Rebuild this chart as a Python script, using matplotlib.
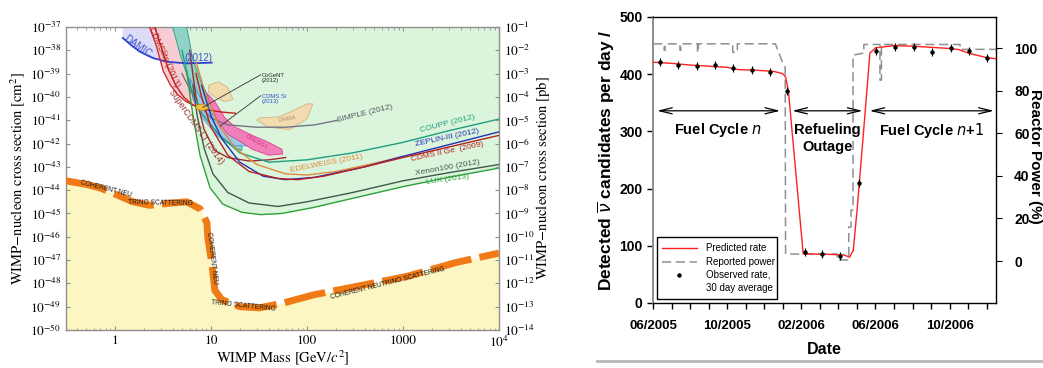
import numpy as np
import matplotlib
matplotlib.use("Agg")
import matplotlib.pyplot as plt
from matplotlib.lines import Line2D
from matplotlib.patches import Rectangle
from matplotlib.ticker import FixedLocator, NullFormatter, LogLocator

plt.rcParams['mathtext.fontset'] = 'stix'

# ---------------- Left panel data: (WIMP mass [GeV], log10 sigma [cm^2]) ----------------
nu_mass = [0.31, 0.5, 0.7, 1.05, 1.54, 2.3, 4.0, 5.6, 7.7, 9.1, 9.3, 10.2, 11.0, 13.0, 20, 32, 56, 115, 1100, 3600, 10000]
nu_logs = [-43.6, -43.75, -43.9, -44.2, -44.5, -44.65, -44.55, -44.5, -44.8, -45.4, -46.05, -47.1, -48.3, -48.7, -49.0, -49.05, -48.85, -48.5, -47.7, -47.1, -46.7]

green_mass = [3.9, 4.6, 5.4, 6.0, 6.5, 7.7, 9.8, 13.3, 21, 33, 55, 115, 300, 1000, 3000, 10000]
green_logs = [-37.0, -38.0, -38.9, -39.8, -40.8, -42.5, -43.9, -44.6, -44.95, -45.05, -45.0, -44.75, -44.35, -43.85, -43.45, -43.05]

damic_mass = [1.21, 1.5, 1.82, 2.49, 3.47, 5.6, 10.2]
damic_logs = [-37.47, -37.8, -38.06, -38.33, -38.49, -38.56, -38.53]

cdmslite1_mass = [2.3, 2.7, 3.2, 3.8, 4.5, 5.5, 7.0]
cdmslite1_logs = [-37.0, -37.8, -38.9, -39.5, -39.9, -40.2, -40.4]
cdmslite2_mass = [2.6, 3.0, 3.6, 4.3, 5.2, 6.5, 9.0, 13.0, 18.0]
cdmslite2_logs = [-37.0, -37.8, -38.8, -39.5, -40.0, -40.35, -40.55, -40.65, -40.7]

teal_left_mass = [4.0, 4.8, 6.0, 7.5, 10, 13, 18, 21]
teal_left_logs = [-37.0, -38.2, -39.4, -40.4, -41.2, -41.8, -42.2, -42.3]
teal_right_mass = [21, 17, 13, 10, 8, 6.5, 5.6]
teal_right_logs = [-42.0, -41.5, -40.9, -40.2, -39.4, -38.4, -37.0]

lux_mass = [5.6, 6.0, 6.5, 7.7, 9.8, 13.3, 21, 33, 55, 115, 300, 1000, 3000, 10000]
lux_logs = [-38.9, -39.8, -40.8, -42.5, -43.9, -44.6, -44.95, -45.05, -45.0, -44.75, -44.35, -43.85, -43.45, -43.05]
xe_mass = [6.5, 7.2, 8.5, 10.5, 15, 25, 50, 100, 300, 1000, 3000, 10000]
xe_logs = [-39.5, -40.8, -42.2, -43.3, -44.1, -44.55, -44.7, -44.5, -44.1, -43.6, -43.25, -42.9]
cdmsge_mass = [7, 8, 10, 15, 25, 50, 80, 150, 400, 1000, 3000, 10000]
cdmsge_logs = [-39.0, -40.0, -41.3, -42.5, -43.2, -43.5, -43.55, -43.4, -43.0, -42.6, -42.15, -41.65]
zep_mass = [8, 10, 13, 20, 35, 60, 120, 400, 1000, 3000, 10000]
zep_logs = [-39.5, -40.8, -41.8, -42.8, -43.4, -43.55, -43.45, -43.0, -42.55, -42.05, -41.5]
edel_mass = [7, 9, 12, 18, 30, 60, 100, 200, 500, 1000]
edel_logs = [-38.5, -40.0, -41.2, -42.2, -42.9, -43.3, -43.35, -43.2, -42.85, -42.55]
coupp_mass = [5, 6, 8, 12, 20, 40, 100, 300, 1000, 3000, 10000]
coupp_logs = [-38.0, -39.5, -40.7, -41.6, -42.4, -42.8, -42.7, -42.4, -41.95, -41.45, -40.95]
simple_mass = [5, 7, 10, 15, 30, 60, 120, 210]
simple_logs = [-39.0, -40.2, -40.9, -41.2, -41.3, -41.3, -41.2, -41.0]
scdms_mass = [6, 7, 8.5, 11, 15, 25, 40, 60]
scdms_logs = [-38.0, -40.0, -41.4, -42.3, -42.6, -42.75, -42.7, -42.6]

dama2_mass = [30, 40, 66, 100, 115, 100, 80, 52, 32]
dama2_logs = [-41.0, -41.3, -41.4, -40.95, -40.3, -40.3, -40.5, -40.85, -40.9]
dama1_mass = [9.5, 12, 15, 17, 14, 11, 9.5]
dama1_logs = [-39.5, -39.35, -39.6, -40.1, -40.2, -40.0, -39.8]
cresst_mass = [9.1, 11, 14, 18, 27, 40, 55, 56, 40, 27, 20, 15, 12, 10]
cresst_logs = [-39.85, -40.2, -40.9, -41.3, -41.65, -41.95, -42.25, -42.45, -42.5, -42.25, -41.9, -41.6, -41.1, -40.4]
cdmssi_mass = [6, 7.5, 10, 14, 20, 24, 18, 12, 8.5, 6.5]
cdmssi_logs = [-39.2, -39.9, -40.7, -41.2, -41.6, -42.1, -42.1, -41.7, -41.0, -40.1]
cogent_mass = [7, 8.5, 9.5, 8, 7]
cogent_logs = [-40.35, -40.3, -40.5, -40.6, -40.5]

# ---------------- Right panel data ----------------
month_tick_labels = ["06/2005", "10/2005", "02/2006", "06/2006", "10/2006"]
pred_month = [0, 1, 2, 3, 4, 4.3, 4.6, 5.5, 6.5, 7.0, 7.15, 7.3, 8.1, 9.5, 10.3, 10.6, 10.8, 11.0, 11.35, 11.7, 12.0, 13.0, 14.0, 15.0, 16.0, 16.5, 17.0, 17.5, 18.0, 18.5]
pred_rate = [421, 419, 416, 414, 412, 410, 408, 407, 405, 401, 395, 372, 86, 85, 84, 80, 92, 160, 297, 437, 446, 450, 449, 447, 445, 443, 437, 433, 429, 427]
power_month = [0, 0.6, 0.6, 0.65, 0.65, 1.45, 1.45, 1.5, 1.5, 2.4, 2.4, 2.45, 2.45, 4.3, 4.3, 4.55, 4.55, 6.6, 7.0, 7.13, 7.15,
               9.93, 9.93, 10.56, 10.56, 10.68, 10.68, 10.79, 10.79, 11.28, 11.37, 11.37, 12.24, 12.24, 12.32, 12.32, 16.56, 16.56, 18.5]
power_pct = [102, 102, 99, 99, 102, 102, 99, 99, 102, 102, 98, 98, 102, 102, 98, 98, 102, 102, 93, 91, 3.3,
             3.3, 0.5, 0.5, 16, 16, 24, 24, 96.7, 97.5, 97.5, 101.7, 101.7, 85, 85, 101.7, 101.7, 99.4, 99.4]
obs_month = [0.38, 1.35, 2.38, 3.35, 4.32, 5.35, 6.32, 7.24, 8.22, 9.12, 10.07, 11.1, 12.05, 13.04, 14.07, 15.06, 16.05, 17.04, 18.04]
obs_rate = [421, 416, 415, 416, 410, 408, 404, 371, 89, 86, 82, 210, 441, 447, 448, 438, 445, 441, 428]
obs_err = [7] * len(obs_rate)


def s(v):
    return 10.0 ** np.asarray(v, dtype=float)


W, H = 1043, 368
fig = plt.figure(figsize=(W / 100, H / 100), dpi=100)

# ================= Left panel =================
ax1 = fig.add_axes([66 / W, 38 / H, 433 / W, 303 / H])
ax1.set_xscale('log')
ax1.set_yscale('log')
ax1.set_xlim(0.31, 1e4)
ax1.set_ylim(1e-50, 1e-37)

ax1.fill_between(nu_mass, 1e-50, s(nu_logs), color='#fcf6c2', zorder=1, lw=0)
ax1.fill_between(green_mass, s(green_logs), 1e-37, color='#dbf5dc', zorder=1, lw=0)

# DAMIC lavender region
lav_m = [1.2] + damic_mass[:4] + [2.95, 2.7, 2.3]
lav_l = [-37.0] + damic_logs[:4] + [-38.42, -37.8, -37.0]
ax1.fill(lav_m, s(lav_l), color='#dcdcf8', zorder=2, lw=0)
# CDMSlite pink band
pk_m = cdmslite1_mass + teal_left_mass[3::-1]
pk_l = cdmslite1_logs + teal_left_logs[3::-1]
ax1.fill(pk_m, s(pk_l), color='#f7cdd3', zorder=2, lw=0)
# teal band
ax1.fill(teal_left_mass + teal_right_mass, s(teal_left_logs + teal_right_logs),
         facecolor='#8fd3c6', edgecolor='#3aa090', lw=0.7, zorder=3)

# regions
ax1.fill(cdmssi_mass, s(cdmssi_logs), facecolor='#9cc8ee', edgecolor='#4a7fd0', lw=0.6, alpha=0.85, zorder=4)
ax1.fill(dama1_mass, s(dama1_logs), facecolor='#f1dbb0', edgecolor='#d5b27c', lw=0.6, zorder=4)
ax1.fill(dama2_mass, s(dama2_logs), facecolor='#f1dbb0', edgecolor='#d5b27c', lw=0.6, zorder=4)
ax1.fill(cresst_mass, s(cresst_logs), facecolor='#f07fba', edgecolor='#e0408f', lw=0.6, zorder=4)
ax1.fill(cogent_mass, s(cogent_logs), facecolor='#f2c23c', edgecolor='#c08020', lw=0.5, zorder=6)

# limit curves
ax1.plot(damic_mass, s(damic_logs), color='#2f3fd0', lw=1.3, zorder=5)
ax1.plot(cdmslite1_mass, s(cdmslite1_logs), color='#d42a2a', lw=1.0, zorder=5)
ax1.plot(cdmslite2_mass, s(cdmslite2_logs), color='#c42020', lw=1.0, zorder=5)
ax1.plot(scdms_mass, s(scdms_logs), color='#9e2a2a', lw=1.0, zorder=5)
ax1.plot(simple_mass, s(simple_logs), color='#757585', lw=1.0, zorder=5)
ax1.plot(coupp_mass, s(coupp_logs), color='#1f9f80', lw=1.0, zorder=5)
ax1.plot(edel_mass, s(edel_logs), color='#e08a3c', lw=1.0, zorder=5)
ax1.plot(zep_mass, s(zep_logs), color='#2333b8', lw=1.0, zorder=5)
ax1.plot(cdmsge_mass, s(cdmsge_logs), color='#b82020', lw=1.0, zorder=5)
ax1.plot(xe_mass, s(xe_logs), color='#3f5a4a', lw=1.0, zorder=5)
ax1.plot(lux_mass, s(lux_logs), color='#2ea23a', lw=1.0, zorder=5)

# neutrino floor
ax1.plot(nu_mass, s(nu_logs), color='#f07b16', lw=5, dashes=(6, 1.2), zorder=6, solid_capstyle='butt')

# labels
lab = dict(family='Liberation Sans', zorder=8)
ax1.text(1.75, s(-37.85), 'DAMIC', color='#4050c8', fontsize=7, rotation=-35, ha='center', va='center', **lab)
ax1.text(7.4, s(-38.35), '(2012)', color='#4050c8', fontsize=7, ha='center', va='center', **lab)
ax1.text(3.3, s(-38.3), 'CDMSlite (2013)', color='#b02020', fontsize=6.3, rotation=-66, ha='center', va='center', **lab)
ax1.text(7.0, s(-41.3), 'SuperCDMS LT (2014)', color='#9e3030', fontsize=6.3, rotation=-55, ha='center', va='center', **lab)
ax1.text(34, s(-39.2), 'CoGeNT\n(2012)', color='#222222', fontsize=4.2, ha='left', va='center', linespacing=1.0, **lab)
ax1.plot([8.2, 33], s([-40.45, -39.05]), color='#333333', lw=0.6, zorder=7)
ax1.text(34, s(-40.1), 'CDMS Si\n(2013)', color='#3050d0', fontsize=4.2, ha='left', va='center', linespacing=1.0, **lab)
ax1.plot([12.5, 33], s([-41.25, -39.95]), color='#333333', lw=0.6, zorder=7)
ax1.text(62, s(-40.95), 'DAMA', color='#c09070', fontsize=4.5, rotation=10, ha='center', va='center', **lab)
ax1.text(30, s(-41.95), 'CRESST', color='#e0307f', fontsize=4.5, rotation=-30, ha='center', va='center', **lab)
ax1.text(400, s(-40.7), 'SIMPLE (2012)', color='#555560', fontsize=6, rotation=14, ha='center', va='center', **lab)
ax1.text(160, s(-42.85), 'EDELWEISS (2011)', color='#e08a3c', fontsize=6, rotation=11, ha='center', va='center', **lab)
ax1.text(2900, s(-41.15), 'COUPP (2012)', color='#1f9f80', fontsize=6, rotation=14, ha='center', va='center', **lab)
ax1.text(2900, s(-41.75), 'ZEPLIN-III (2012)', color='#2333b8', fontsize=6, rotation=12, ha='center', va='center', **lab)
ax1.text(2900, s(-42.35), 'CDMS II Ge  (2009)', color='#b82020', fontsize=6, rotation=12, ha='center', va='center', **lab)
ax1.text(2900, s(-43.05), 'Xenon100 (2012)', color='#3f5a4a', fontsize=6, rotation=10, ha='center', va='center', **lab)
ax1.text(2900, s(-43.55), 'LUX (2013)', color='#2ea23a', fontsize=6, rotation=8, ha='center', va='center', **lab)

nlab = dict(family='Liberation Sans', fontsize=4.8, color='#1a1a1a', ha='center', va='center', zorder=8)
ax1.text(0.8, s(-43.95), 'COHERENT NEU', rotation=-14, **nlab)
ax1.text(3.0, s(-44.55), 'TRINO SCATTERING', rotation=-1, **nlab)
ax1.text(10.1, s(-46.9), 'COHERENT NEU', rotation=-83, **nlab)
ax1.text(22, s(-48.95), 'TRINO SCATTERING', rotation=-6, **nlab)
ax1.text(700, s(-48.0), 'COHERENT NEUTRINO SCATTERING', rotation=14, **nlab)

# axes styling
for sp in ax1.spines.values():
    sp.set_color('#909090')
    sp.set_linewidth(1.0)
ax1.xaxis.set_major_locator(FixedLocator([1, 10, 100, 1000, 1e4]))
ax1.set_xticklabels(['1', '10', '100', '1000', r'$10^{4}$'])
ax1.xaxis.set_minor_locator(LogLocator(base=10, subs=np.arange(2, 10), numticks=20))
ax1.xaxis.set_minor_formatter(NullFormatter())
ax1.yaxis.set_major_locator(FixedLocator(s(np.arange(-50, -36))))
ax1.yaxis.set_minor_locator(FixedLocator([]))
ax1.tick_params(axis='both', which='both', direction='in', top=True, labelsize=9.5, color='#909090')
ax1.tick_params(axis='x', which='major', length=3)
ax1.tick_params(axis='x', which='minor', length=1.8)
ax1.tick_params(axis='y', length=3)
for t in ax1.get_xticklabels() + ax1.get_yticklabels():
    t.set_family('STIXGeneral')
ax1.set_ylabel(r'WIMP$-$nucleon cross section [cm$^2$]', family='STIXGeneral', fontsize=10.5)
ax1.yaxis.set_label_coords(-0.09, 0.5)
ax1.set_xlabel(r'WIMP Mass [GeV/$c^2$]', family='STIXGeneral', fontsize=10.5)
ax1.xaxis.set_label_coords(0.5, -0.058)

ax1r = ax1.twinx()
ax1r.set_yscale('log')
ax1r.set_ylim(1e-14, 1e-1)
ax1r.yaxis.set_major_locator(FixedLocator(s(np.arange(-14, 0))))
ax1r.yaxis.set_minor_locator(FixedLocator([]))
ax1r.tick_params(axis='y', direction='in', labelsize=9.5, length=3, color='#909090')
for t in ax1r.get_yticklabels():
    t.set_family('STIXGeneral')
for sp in ax1r.spines.values():
    sp.set_visible(False)
ax1r.set_ylabel(r'WIMP$-$nucleon cross section [pb]', family='STIXGeneral', fontsize=10.5, rotation=90)
ax1r.yaxis.set_label_coords(1.08, 0.5)

# ================= Right panel =================
bold = dict(family='Liberation Sans', fontweight='bold')
ax2 = fig.add_axes([653 / W, 65 / H, 343 / W, 286 / H])
ax2.set_xlim(0, 18.5)
ax2.set_ylim(0, 500)
ax2r = ax2.twinx()
ax2r.set_ylim(-19.7, 114.6)

ax2r.plot(power_month, power_pct, color='#909090', lw=1.1, dashes=(6, 3), zorder=2)
ax2.plot(pred_month, pred_rate, color='#ff2020', lw=1.0, zorder=3)
ax2.errorbar(obs_month, obs_rate, yerr=obs_err, fmt='o', color='black', ms=2.2, elinewidth=0.8, capsize=0, zorder=4)
ax2.set_zorder(ax2r.get_zorder() + 1)
ax2.patch.set_visible(False)

arrow = dict(arrowstyle='<->,head_length=0.9,head_width=0.22', color='black', lw=0.9, shrinkA=0, shrinkB=0)
for x0, x1 in [(0.22, 6.86), (7.51, 11.3), (11.68, 18.38)]:
    ax2.annotate('', xy=(x1, 336), xytext=(x0, 336), arrowprops=arrow)
ax2.text(3.5, 302, r'Fuel Cycle $\mathit{n}$', ha='center', va='center', fontsize=10.5, math_fontfamily='dejavusans', **bold)
ax2.text(9.4, 287, 'Refueling\nOutage', ha='center', va='center', fontsize=10.5, linespacing=1.25, **bold)
ax2.text(15.0, 302, r'Fuel Cycle $\mathit{n}$+$\mathit{1}$', ha='center', va='center', fontsize=10.5, math_fontfamily='dejavusans', **bold)

# legend (manual box)
ax2.add_patch(Rectangle((0.012, 0.014), 0.35, 0.217, transform=ax2.transAxes, facecolor='white',
                        edgecolor='black', lw=1.0, zorder=5))
ax2.plot([0.026, 0.128], [0.192, 0.192], transform=ax2.transAxes, color='#ff2020', lw=1.0, zorder=6)
ax2.plot([0.026, 0.128], [0.143, 0.143], transform=ax2.transAxes, color='#909090', lw=1.1, dashes=(6, 3), zorder=6)
ax2.plot([0.077], [0.098], 'o', transform=ax2.transAxes, color='black', ms=2.2, zorder=6)
leg_font = dict(family=['Liberation Sans Narrow', 'Liberation Sans'], fontsize=7.0, ha='left', va='center', zorder=6)
for yy, tt in zip([0.192, 0.143, 0.098, 0.052], ['Predicted rate', 'Reported power', 'Observed rate,', '30 day average']):
    ax2.text(0.155, yy, tt, transform=ax2.transAxes, **leg_font)

ax2.set_xticks(np.arange(0, 19))
ax2.set_xticklabels([month_tick_labels[i // 4] if i % 4 == 0 else '' for i in range(19)])
ax2.set_yticks([0, 100, 200, 300, 400, 500])
ax2.tick_params(axis='both', direction='out', length=4, width=1.0, labelsize=10)
ax2.tick_params(axis='x', pad=8, labelsize=9.5)
for t in ax2.get_xticklabels() + ax2.get_yticklabels():
    t.set_family('Liberation Sans')
    t.set_fontweight('bold')
ax2.spines['left'].set_color('#8c8c8c')
ax2.spines['left'].set_linewidth(1.4)
for k in ['top', 'right', 'bottom']:
    ax2.spines[k].set_color('black')
    ax2.spines[k].set_linewidth(1.0)
ax2.set_ylabel(r'Detected $\overline{\nu}$ candidates per day /', fontsize=12.5, math_fontfamily='dejavusans', **bold)
ax2.yaxis.set_label_coords(-0.105, 0.5)
ax2.set_xlabel('Date', fontsize=11.5, **bold)
ax2.xaxis.set_label_coords(0.4985, -0.135)

ax2r.set_yticks([0, 20, 40, 60, 80, 100])
ax2r.tick_params(axis='y', direction='out', length=4, pad=9, labelsize=10)
for t in ax2r.get_yticklabels():
    t.set_family('Liberation Sans')
    t.set_fontweight('bold')
for sp in ax2r.spines.values():
    sp.set_visible(False)
ax2r.set_ylabel('Reactor Power (%)', rotation=270, fontsize=11, **bold)
ax2r.yaxis.set_label_coords(1.135, 0.514)

fig.add_artist(Line2D([597 / W, 1.0], [1 - 361 / H] * 2, color='#b8b8b8', lw=2))

fig.savefig('out.png', dpi=100)
